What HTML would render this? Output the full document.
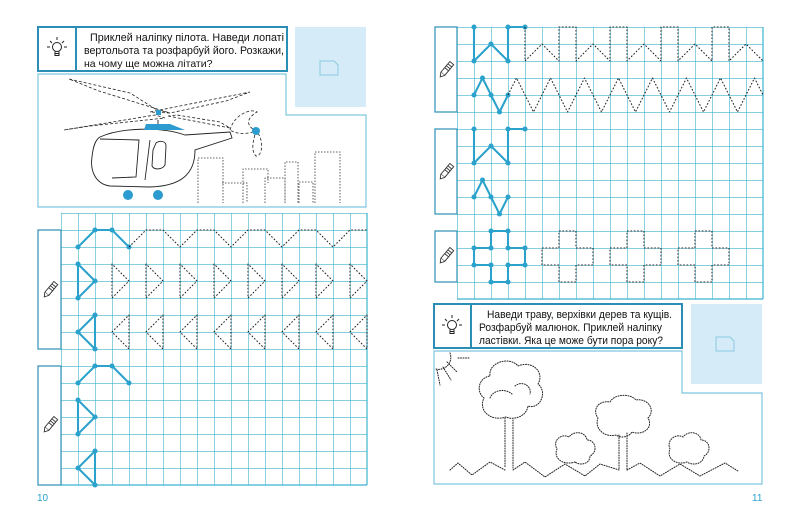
<!DOCTYPE html>
<html><head><meta charset="utf-8"><style>
html,body{margin:0;padding:0;background:#fff;width:800px;height:521px;overflow:hidden}
svg{display:block}
text{font-family:"Liberation Sans",sans-serif}
</style></head><body>
<svg width="800" height="521" viewBox="0 0 800 521" xmlns="http://www.w3.org/2000/svg">
<defs>
<pattern id="gL" x="61" y="213" width="17" height="17" patternUnits="userSpaceOnUse">
<path d="M0 0H17M0 0V17" stroke="#3bb3cf" stroke-width="1.2" fill="none"/></pattern>
<pattern id="gR" x="457" y="27" width="17" height="17" patternUnits="userSpaceOnUse">
<path d="M0 0H17M0 0V17" stroke="#3bb3cf" stroke-width="1.2" fill="none"/></pattern>
<g id="bulb" fill="none" stroke="#222" stroke-width="1">
<circle cx="0" cy="0" r="4.5"/><path d="M-2 4.5v4h4v-4M-2 6.5h4"/>
<path d="M0 -10v3M-7 -6l2 2M7 -6l-2 2M-10 0h3M10 0h-3"/></g>
<g id="pen" stroke="#333" stroke-width="0.9" fill="#fff">
<rect x="-2.5" y="-9" width="5" height="14"/><path d="M-2.5 5l2.5 4l2.5 -4" /><path d="M-2.5 -6h5M-2.5 -3.5h5M-2.5 -1h5" /></g>
</defs>

<!-- LEFT PAGE -->
<rect x="38" y="27" width="249" height="44" fill="#fff" stroke="#2b8fb5" stroke-width="2"/>
<line x1="76" y1="27" x2="76" y2="71" stroke="#2b8fb5" stroke-width="2"/>
<use href="#bulb" x="57" y="47"/>
<text font-size="11" fill="#111"><tspan x="90" y="41" textLength="194" lengthAdjust="spacingAndGlyphs">Приклей наліпку пілота. Наведи лопаті</tspan><tspan x="84" y="54" textLength="200" lengthAdjust="spacingAndGlyphs">вертольота та розфарбуй його. Розкажи,</tspan></text>
<text x="84" y="67" font-size="10.5" fill="#111">на чому ще можна літати?</text>
<rect x="295" y="27" width="71" height="80" fill="#d5ecf8"/>
<path d="M320 61h14l4 4v10h-18z" fill="none" stroke="#8cc8e3" stroke-width="1"/>
<path d="M38 74H286V115H366V207H38Z" fill="none" stroke="#7fc6dd" stroke-width="1.2"/>

<!-- helicopter -->
<g fill="none" stroke="#222" stroke-width="0.8" stroke-dasharray="3,2">
<path d="M69 79L130 93L157 110L170 113L99 91Z"/>
<path d="M150 112L250 92L226 101L170 113Z"/>
<path d="M64 130L155 115L165 118L90 126Z"/>
<path d="M168 116L230 128L220 122L177 115Z"/>
<path d="M230 130C234 115 250 108 257 112C247 118 245 125 256 131C265 140 262 157 256 156C250 150 254 138 256 131C248 134 238 135 230 130Z"/>
</g>
<g fill="none" stroke="#222" stroke-width="0.9">
<path d="M100 137C120 128 160 126 185 135L230 132L232 138L195 150C195 175 180 186 150 187L110 186C95 184 90 170 92 157C93 147 95 140 100 137Z"/>
<path d="M100 139L139 140L136 177L112 178"/>
<path d="M156 143C160 140 166 141 166 146L165 165C162 170 154 170 152 166L153 150Z"/>
<path d="M150 140L145 180"/>
<path d="M158 120v6M152 126h16"/>
</g>
<path d="M144 130L146 124L170 124L185 130Z" fill="#2b9bd0"/>
<rect x="156" y="110" width="5" height="5" fill="#2b9bd0"/>
<circle cx="256" cy="131" r="4" fill="#2b9bd0"/>
<circle cx="128" cy="195" r="5" fill="#2b9bd0"/><circle cx="158" cy="195" r="5" fill="#2b9bd0"/>
<g fill="none" stroke="#333" stroke-width="0.8" stroke-dasharray="1.5,1.5">
<path d="M198 203V158H223V203M222 183H247V203M243 203V169H268V183M265 203V178H285V203M285 203V162H298V203M299 203V182H313V203M315 203V152H340V203"/>
</g>

<!-- left grid -->
<rect x="61" y="213" width="306" height="272" fill="url(#gL)"/>
<path d="M367 213V485M61 485H367" stroke="#3bb3cf" stroke-width="1.2"/>
<rect x="38" y="230" width="23" height="119" fill="#fff" stroke="#2b8fb5" stroke-width="1.2"/>
<rect x="38" y="366" width="23" height="119" fill="#fff" stroke="#2b8fb5" stroke-width="1.2"/>
<use href="#pen" transform="translate(50 290) rotate(40)"/>
<use href="#pen" transform="translate(50 425) rotate(40)"/>

<g transform="translate(61 213) scale(17)" fill="none" stroke-linejoin="round">
<g stroke="#2aa2cc" stroke-width="0.12">
<path d="M1 2L2 1H3L4 2"/><path d="M1 3V5L2 4Z"/><path d="M2 6V8L1 7Z"/>
<path d="M1 10L2 9H3L4 10"/><path d="M1 11V13L2 12Z"/><path d="M2 14V16L1 15Z"/>
</g>
<g fill="#2aa2cc">
<circle cx="1" cy="2" r="0.15"/><circle cx="2" cy="1" r="0.15"/><circle cx="3" cy="1" r="0.15"/><circle cx="4" cy="2" r="0.15"/>
<circle cx="1" cy="3" r="0.15"/><circle cx="1" cy="5" r="0.15"/><circle cx="2" cy="4" r="0.15"/>
<circle cx="2" cy="6" r="0.15"/><circle cx="2" cy="8" r="0.15"/><circle cx="1" cy="7" r="0.15"/>
<circle cx="1" cy="10" r="0.15"/><circle cx="2" cy="9" r="0.15"/><circle cx="3" cy="9" r="0.15"/><circle cx="4" cy="10" r="0.15"/>
<circle cx="1" cy="11" r="0.15"/><circle cx="1" cy="13" r="0.15"/><circle cx="2" cy="12" r="0.15"/>
<circle cx="2" cy="14" r="0.15"/><circle cx="2" cy="16" r="0.15"/><circle cx="1" cy="15" r="0.15"/>
</g>
<g stroke="#222" stroke-width="0.06" stroke-dasharray="0.1,0.1">
<path d="M4 2L5 1H6L7 2L8 1H9L10 2L11 1H12L13 2L14 1H15L16 2L17 1H18"/>
<path d="M3 3V5L4 4ZM5 3V5L6 4ZM7 3V5L8 4ZM9 3V5L10 4ZM11 3V5L12 4ZM13 3V5L14 4ZM15 3V5L16 4ZM17 3V5L18 4Z"/>
<path d="M4 6V8L3 7ZM6 6V8L5 7ZM8 6V8L7 7ZM10 6V8L9 7ZM12 6V8L11 7ZM14 6V8L13 7ZM16 6V8L15 7ZM18 6V8L17 7Z"/>
</g>
</g>
<text x="37" y="501" font-size="10" fill="#2aa2cc">10</text>

<!-- RIGHT PAGE grid -->
<rect x="457" y="27" width="306" height="272" fill="url(#gR)"/>
<path d="M763 27V299M457 299H763" stroke="#3bb3cf" stroke-width="1.2"/>
<rect x="435" y="27" width="22" height="85" fill="#fff" stroke="#2b8fb5" stroke-width="1.2"/>
<rect x="435" y="129" width="22" height="85" fill="#fff" stroke="#2b8fb5" stroke-width="1.2"/>
<rect x="435" y="231" width="22" height="51" fill="#fff" stroke="#2b8fb5" stroke-width="1.2"/>
<use href="#pen" transform="translate(446 70) rotate(40)"/>
<use href="#pen" transform="translate(446 172) rotate(40)"/>
<use href="#pen" transform="translate(446 256) rotate(40)"/>

<g transform="translate(457 27) scale(17)" fill="none" stroke-linejoin="round">
<g stroke="#2aa2cc" stroke-width="0.12">
<path d="M1 0V2L2 1L3 2V0H4"/><path d="M1 4L1.5 3L2.5 5L3 4"/>
<path d="M1 6V8L2 7L3 8V6H4"/><path d="M1 10L1.5 9L2.5 11L3 10"/>
<path d="M2 12H3V13H4V14H3V15H2V14H1V13H2Z"/>
</g>
<g fill="#2aa2cc">
<circle cx="1" cy="0" r="0.15"/><circle cx="1" cy="2" r="0.15"/><circle cx="2" cy="1" r="0.15"/><circle cx="3" cy="2" r="0.15"/><circle cx="3" cy="0" r="0.15"/><circle cx="4" cy="0" r="0.15"/>
<circle cx="1" cy="4" r="0.15"/><circle cx="1.5" cy="3" r="0.15"/><circle cx="2" cy="4" r="0.15"/><circle cx="2.5" cy="5" r="0.15"/><circle cx="3" cy="4" r="0.15"/>
<circle cx="1" cy="6" r="0.15"/><circle cx="1" cy="8" r="0.15"/><circle cx="2" cy="7" r="0.15"/><circle cx="3" cy="8" r="0.15"/><circle cx="3" cy="6" r="0.15"/><circle cx="4" cy="6" r="0.15"/>
<circle cx="1" cy="10" r="0.15"/><circle cx="1.5" cy="9" r="0.15"/><circle cx="2" cy="10" r="0.15"/><circle cx="2.5" cy="11" r="0.15"/><circle cx="3" cy="10" r="0.15"/>
<circle cx="2" cy="12" r="0.15"/><circle cx="3" cy="12" r="0.15"/><circle cx="1" cy="13" r="0.15"/><circle cx="2" cy="13" r="0.15"/><circle cx="3" cy="13" r="0.15"/><circle cx="4" cy="13" r="0.15"/>
<circle cx="1" cy="14" r="0.15"/><circle cx="2" cy="14" r="0.15"/><circle cx="3" cy="14" r="0.15"/><circle cx="4" cy="14" r="0.15"/><circle cx="2" cy="15" r="0.15"/><circle cx="3" cy="15" r="0.15"/>
</g>
<g stroke="#222" stroke-width="0.06" stroke-dasharray="0.1,0.1">
<path d="M4 0V2L5 1L6 2V0H7V2L8 1L9 2V0H10V2L11 1L12 2V0H13V2L14 1L15 2V0H16V2L17 1L18 2"/>
<path d="M3 4L3.5 3L4.5 5L5.5 3L6.5 5L7.5 3L8.5 5L9.5 3L10.5 5L11.5 3L12.5 5L13.5 3L14.5 5L15.5 3L16.5 5L17.5 3L18 4"/>
<path d="M6 12H7V13H8V14H7V15H6V14H5V13H6Z"/>
<path d="M10 12H11V13H12V14H11V15H10V14H9V13H10Z"/>
<path d="M14 12H15V13H16V14H15V15H14V14H13V13H14Z"/>
</g>
</g>

<rect x="434" y="304" width="248" height="44" fill="#fff" stroke="#2b8fb5" stroke-width="2"/>
<line x1="471" y1="304" x2="471" y2="348" stroke="#2b8fb5" stroke-width="2"/>
<use href="#bulb" x="452" y="325"/>
<text font-size="11" fill="#111"><tspan x="487" y="318" textLength="185" lengthAdjust="spacingAndGlyphs">Наведи траву, верхівки дерев та кущів.</tspan><tspan x="479" y="331" textLength="183" lengthAdjust="spacingAndGlyphs">Розфарбуй малюнок. Приклей наліпку</tspan><tspan x="479" y="344" textLength="184" lengthAdjust="spacingAndGlyphs">ластівки. Яка це може бути пора року?</tspan></text>
<rect x="691" y="304" width="71" height="80" fill="#d5ecf8"/>
<path d="M716 337h14l4 4v10h-18z" fill="none" stroke="#8cc8e3" stroke-width="1"/>
<path d="M434 351H682V393H762V484H434Z" fill="none" stroke="#7fc6dd" stroke-width="1.2"/>

<g fill="none" stroke="#222" stroke-width="1" stroke-dasharray="1,1.5" stroke-linecap="round">
<path d="M450 353A12 12 0 0 1 436 369M447 362L457 372M443 367L451 380M437 370L440 385M458 358H470"/>
<path d="M506 417C490 422 478 410 484 398C476 392 478 378 490 376C488 362 510 356 518 366C532 360 545 372 538 384C548 392 540 410 528 406C526 418 512 420 506 417Z"/>
<path d="M490 398C493 390 505 388 512 394M515 386C522 380 532 386 530 394"/>
<path d="M505 418V468M513 420V468"/>
<path d="M616 435C604 438 594 428 598 418C592 410 598 400 610 402C614 394 630 393 636 400C648 398 656 410 648 418C654 428 642 436 632 432C628 438 620 438 616 435Z"/>
<path d="M619 435V470M627 433V470"/>
<path d="M575 462C563 466 553 458 557 449C552 440 562 433 569 437C574 430 586 432 587 440C596 440 598 452 590 456C590 464 580 466 575 462Z"/>
<path d="M687 462C676 466 666 458 670 449C666 440 676 433 683 437C688 430 700 432 701 440C710 440 712 452 704 456C703 464 693 466 687 462Z"/>
<path d="M450 470L458 463L472 475L490 462L505 470M513 470L525 462L545 477L565 464L585 476L600 464L619 470M627 470L640 463L660 476L680 464L700 476L725 463L738 471"/>
</g>
<text x="752" y="501" font-size="10" fill="#2aa2cc">11</text>
</svg>
</body></html>
